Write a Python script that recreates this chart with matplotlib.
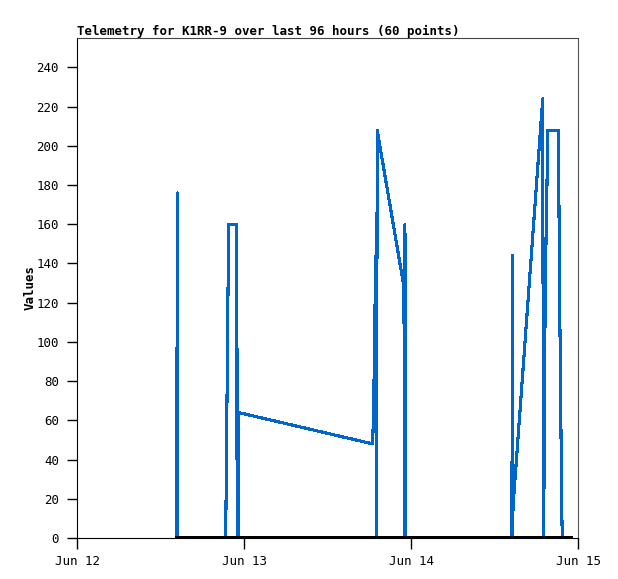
import matplotlib
matplotlib.use('Agg')
import matplotlib.pyplot as plt
import matplotlib.dates as mdates
from datetime import datetime, timedelta

start = datetime(2024, 6, 12)

# telemetry samples, hours after Jun 12 00:00 and raw value
hours = [14.30, 14.37, 14.44, 14.51,
         21.37, 21.44, 21.58, 21.72, 21.80, 22.89, 22.93, 22.99, 23.07, 23.14, 23.21,
         42.49, 42.61, 42.76, 42.86, 42.95, 43.04, 43.14,
         46.99, 47.06, 47.13, 47.21,
         62.51, 62.55, 62.61, 62.66,
         66.93, 67.04, 67.11, 67.19, 67.30, 67.55, 67.59,
         69.17, 69.24, 69.34, 69.49, 69.63, 69.73]
values = [0, 88, 176, 0,
          0, 27, 80, 133, 160, 160, 120, 40, 96, 0, 64,
          48, 64, 96, 128, 144, 0, 208,
          128, 0, 160, 0,
          0, 144, 0, 16,
          224, 0, 26, 78, 130, 182, 208,
          208, 182, 130, 78, 26, 0]

# second channel, flat at zero
zero_hours = [14.30, 70.85]
zero_values = [0, 0]

day_ticks = [0, 24, 48, 72]

times = [start + timedelta(hours=h) for h in hours]
zero_times = [start + timedelta(hours=h) for h in zero_hours]

plt.rcParams['font.family'] = ['DejaVu Sans Mono']

fig = plt.figure(figsize=(6.18, 5.79), dpi=100)
ax = fig.add_axes([77/618, 41/579, 501/618, 500/579])

ax.plot(times, values, color='#0066cc', linewidth=1.5, antialiased=False)
ax.plot(zero_times, zero_values, color='black', linewidth=2.4, antialiased=False,
        zorder=3)

ax.set_xlim(start, start + timedelta(hours=72))
ax.set_ylim(0, 255)
ax.set_xticks([start + timedelta(hours=h) for h in day_ticks])
ax.xaxis.set_major_formatter(mdates.DateFormatter('%b %d'))
ax.set_yticks(range(0, 241, 20))

ax.tick_params(axis='x', length=8, width=1, labelsize=9, pad=4)
ax.tick_params(axis='y', length=7, width=1, labelsize=9, pad=6)

ax.spines['top'].set_color('#444444')
ax.spines['right'].set_color('#555555')

ax.set_ylabel('Values', fontsize=9, fontweight='bold', labelpad=0)
ax.set_title('Telemetry for K1RR-9 over last 96 hours (60 points)',
             loc='left', fontsize=9, fontweight='bold', pad=2)

fig.savefig('out.png', dpi=100)
